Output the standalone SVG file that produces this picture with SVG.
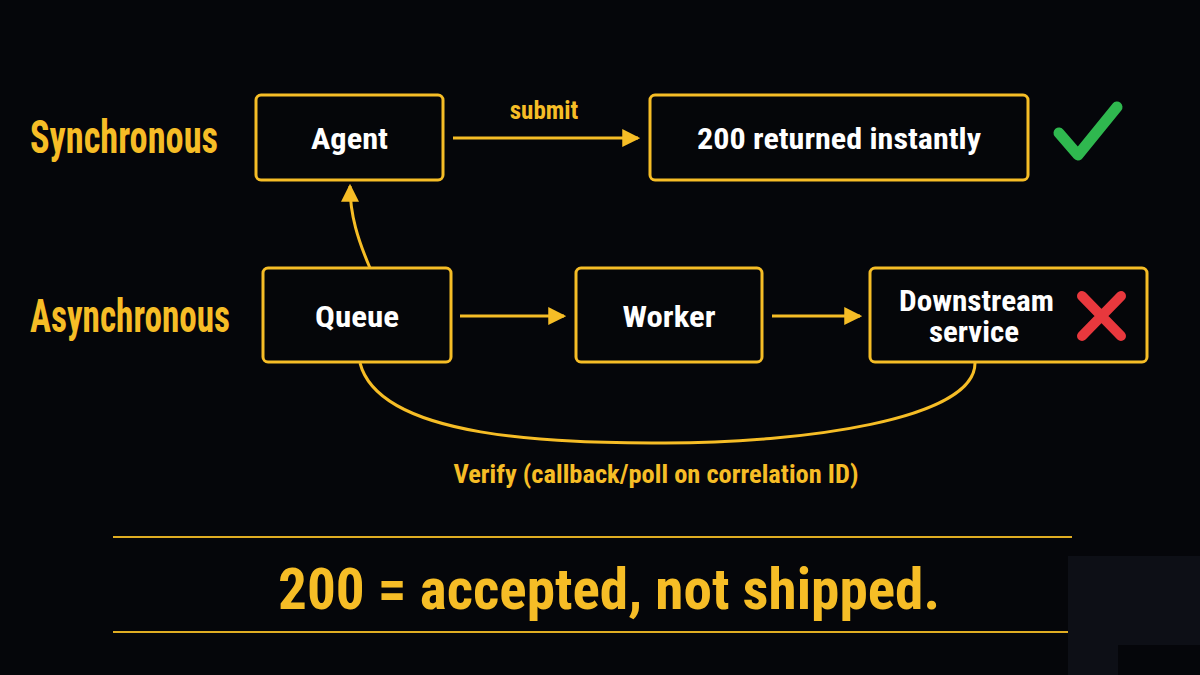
<svg xmlns="http://www.w3.org/2000/svg" width="1200" height="675" viewBox="0 0 1200 675">
  <defs>
    <style>
      .node { fill: #050609; stroke: #f6bd26; stroke-width: 3; }
      .ntext { fill: #ffffff; font-family: "Roboto Condensed", "Liberation Sans", sans-serif; font-weight: bold; font-size: 30px; text-anchor: middle; }
      .row { fill: #f6bd26; font-family: "Roboto Condensed", "Liberation Sans", sans-serif; font-weight: bold; font-size: 46px; }
      .lbl { fill: #f6bd26; font-family: "Roboto Condensed", "Liberation Sans", sans-serif; font-weight: bold; font-size: 25px; text-anchor: middle; }
      .edge { fill: none; stroke: #f6bd26; stroke-width: 3; }
      .rule { stroke: #e0ad22; stroke-width: 2; }
    </style>
    <marker id="arrowL" viewBox="0 0 16 16" refX="14" refY="8" markerWidth="18" markerHeight="18" markerUnits="userSpaceOnUse" orient="auto">
      <path d="M0,0 L16,8 L0,16 z" fill="#f6bd26"/>
    </marker>
  </defs>

  <rect width="1200" height="675" fill="#05060a"/>
  <!-- corner panel -->
  <path d="M1068,556 H1200 V645 H1118 V675 H1068 Z" fill="#0d0f16"/>

  <!-- row labels -->
  <text class="row" x="30" y="153" textLength="188" lengthAdjust="spacingAndGlyphs">Synchronous</text>
  <text class="row" x="30" y="332" textLength="200" lengthAdjust="spacingAndGlyphs">Asynchronous</text>

  <!-- connectors -->
  <g id="connectors">
    <line class="edge" x1="453" y1="138" x2="638" y2="138" marker-end="url(#arrowL)"/>
    <text class="lbl" x="544" y="119">submit</text>
    <path class="edge" d="M370,268 C358,240 350,215 350,186" marker-end="url(#arrowL)"/>
    <line class="edge" x1="460" y1="316" x2="564" y2="316" marker-end="url(#arrowL)"/>
    <line class="edge" x1="772" y1="316" x2="860" y2="316" marker-end="url(#arrowL)"/>
    <path class="edge" d="M360,363 C380,440 560,443 665,443 C800,443 975,420 975,363"/>
    <text class="lbl" x="656" y="483" textLength="405" lengthAdjust="spacingAndGlyphs">Verify (callback/poll on correlation ID)</text>
  </g>

  <g id="agent">
    <rect class="node" x="256" y="95" width="187" height="85" rx="5"/>
    <text class="ntext" x="349.5" y="149" textLength="77" lengthAdjust="spacingAndGlyphs">Agent</text>
  </g>
  <g id="returned">
    <rect class="node" x="650" y="95" width="378" height="85" rx="5"/>
    <text class="ntext" x="839" y="149" textLength="284" lengthAdjust="spacingAndGlyphs">200 returned instantly</text>
  </g>
  <g id="check">
    <path d="M1059,133 L1078,155 L1117,107" fill="none" stroke="#2fb84f" stroke-width="11" stroke-linecap="round" stroke-linejoin="round"/>
  </g>
  <g id="queue">
    <rect class="node" x="263" y="268" width="188" height="94" rx="5"/>
    <text class="ntext" x="357" y="327" textLength="84" lengthAdjust="spacingAndGlyphs">Queue</text>
  </g>
  <g id="worker">
    <rect class="node" x="576" y="268" width="186" height="94" rx="5"/>
    <text class="ntext" x="669" y="327" textLength="93" lengthAdjust="spacingAndGlyphs">Worker</text>
  </g>
  <g id="downstream">
    <rect class="node" x="870" y="268" width="277" height="94" rx="5"/>
    <text class="ntext" x="976.5" y="311" style="font-size:29px" textLength="155" lengthAdjust="spacingAndGlyphs">Downstream</text>
    <text class="ntext" x="974" y="342" style="font-size:29px" textLength="90" lengthAdjust="spacingAndGlyphs">service</text>
    <path d="M1082,296 L1121,336 M1121,296 L1082,336" stroke="#e8383d" stroke-width="10" stroke-linecap="round"/>
  </g>

  <!-- takeaway -->
  <line class="rule" x1="113" y1="537" x2="1072" y2="537"/>
  <line class="rule" x1="113" y1="632" x2="1068" y2="632"/>
  <text x="609" y="609" fill="#f6bd26" font-family="Roboto Condensed, Liberation Sans, sans-serif" font-weight="bold" font-size="58" text-anchor="middle" textLength="662" lengthAdjust="spacingAndGlyphs">200 = accepted, not shipped.</text>
</svg>
